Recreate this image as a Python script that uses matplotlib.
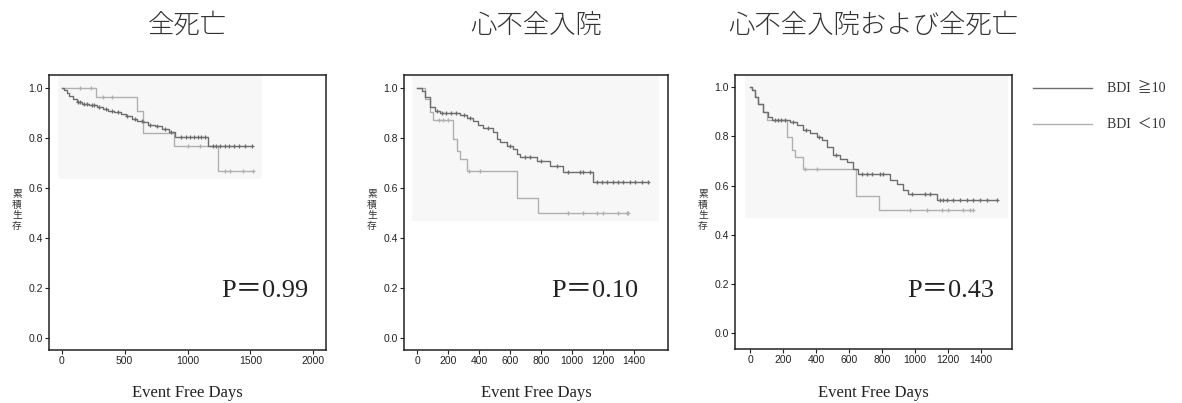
import numpy as np
import matplotlib
matplotlib.use("Agg")
import matplotlib.pyplot as plt
from matplotlib.patches import Rectangle

# ---- data ----
titles = ["全死亡", "心不全入院", "心不全入院および全死亡"]
p_values = ["P＝0.99", "P＝0.10", "P＝0.43"]
legend_labels = ["BDI  ≧10", "BDI  ＜10"]
x_ticks = [[0, 500, 1000, 1500, 2000],
           [0, 200, 400, 600, 800, 1000, 1200, 1400],
           [0, 200, 400, 600, 800, 1000, 1200, 1400]]
y_ticks = [0.0, 0.2, 0.4, 0.6, 0.8, 1.0]

# panel 1: all-cause death
p1_dark_t = [0, 20, 40, 60, 90, 120, 160, 220, 280, 330, 370, 420, 470, 510,
             560, 600, 650, 690, 740, 800, 850, 900, 1160]
p1_dark_s = [1.0, 0.99, 0.98, 0.968, 0.955, 0.944, 0.935, 0.929, 0.921, 0.914,
             0.908, 0.902, 0.895, 0.886, 0.876, 0.868, 0.862, 0.852, 0.845,
             0.836, 0.824, 0.803, 0.768]
p1_dark_c = [130, 150, 180, 200, 240, 260, 300, 350, 400, 450, 520, 580, 640,
             700, 760, 820, 870, 950, 990, 1020, 1050, 1080, 1110, 1140, 1200,
             1230, 1260, 1300, 1330, 1370, 1410, 1460, 1510]
p1_light_t = [0, 270, 597, 643, 896, 1243]
p1_light_s = [1.0, 0.961, 0.908, 0.817, 0.767, 0.668]
p1_light_c = [150, 230, 330, 400, 1000, 1100, 1296, 1336, 1443, 1523]

# panel 2: heart failure hospitalisation
p2_dark_t = [0, 30, 52, 84, 116, 148, 277, 320, 363, 395, 428, 492, 514, 535,
             578, 621, 643, 665, 772, 858, 944, 1138]
p2_dark_s = [1.0, 0.985, 0.963, 0.922, 0.905, 0.9, 0.892, 0.878, 0.865, 0.849,
             0.838, 0.822, 0.795, 0.782, 0.768, 0.755, 0.735, 0.721, 0.708,
             0.688, 0.661, 0.621]
p2_dark_c = [130, 160, 190, 220, 250, 300, 340, 460, 600, 697, 729, 800, 900,
             976, 1051, 1073, 1116, 1159, 1191, 1224, 1267, 1299, 1331, 1374,
             1406, 1449, 1492]
p2_light_t = [0, 52, 84, 105, 234, 256, 277, 320, 647, 783]
p2_light_s = [1.0, 0.956, 0.902, 0.869, 0.795, 0.748, 0.715, 0.668, 0.558,
              0.497]
p2_light_c = [140, 170, 200, 333, 406, 976, 1073, 1159, 1202, 1299, 1353,
              1363]

# panel 3: heart failure hospitalisation or all-cause death
p3_dark_t = [0, 10, 30, 51, 81, 111, 131, 242, 283, 323, 364, 404, 434, 465,
             505, 545, 586, 626, 657, 848, 889, 929, 960, 1131]
p3_dark_s = [1.0, 0.987, 0.96, 0.933, 0.899, 0.878, 0.865, 0.858, 0.845,
             0.827, 0.814, 0.797, 0.784, 0.757, 0.723, 0.709, 0.696, 0.669,
             0.649, 0.621, 0.608, 0.581, 0.567, 0.543]
p3_dark_c = [150, 170, 190, 210, 260, 340, 420, 520, 677, 707, 737, 788, 808,
             980, 1061, 1091, 1151, 1171, 1192, 1232, 1273, 1313, 1353, 1394,
             1434, 1495]
p3_light_t = [0, 10, 30, 51, 81, 101, 222, 252, 273, 323, 642, 784]
p3_light_s = [1.0, 0.987, 0.96, 0.933, 0.899, 0.865, 0.797, 0.743, 0.716,
              0.669, 0.556, 0.5]
p3_light_c = [333, 404, 970, 1071, 1162, 1202, 1293, 1333, 1354]

panels = [
    (p1_dark_t, p1_dark_s, p1_dark_c, p1_light_t, p1_light_s, p1_light_c),
    (p2_dark_t, p2_dark_s, p2_dark_c, p2_light_t, p2_light_s, p2_light_c),
    (p3_dark_t, p3_dark_s, p3_dark_c, p3_light_t, p3_light_s, p3_light_c),
]

# ---- layout (pixels of a 1182x403 canvas) ----
W, H = 1182, 403
axes_px = [(49, 326, 75, 350), (404, 668, 75, 350), (735, 1012, 75, 349)]
x_lims = [(-100, 2100), (-84, 1619), (-91, 1588)]
y_lims = [(-0.05, 1.05), (-0.05, 1.05), (-0.065, 1.05)]
p_right = [308, 638, 994]   # right edge of the P-value text, px

DARK = "#6e6e6e"
LIGHT = "#b0b0b0"
SERIF = ["Liberation Serif", "Noto Sans CJK JP"]
CJK = ["Noto Sans CJK JP", "DejaVu Sans"]


def km_line(ax, t, s, cens, color):
    end = max(max(cens), t[-1])
    ax.step(list(t) + [end], list(s) + [s[-1]], where="post",
            color=color, lw=1.0)
    idx = np.searchsorted(t, cens, side="right") - 1
    ax.plot(cens, np.array(s)[idx], ls="none", marker="+", ms=3.5,
            mew=0.9, color=color)


fig = plt.figure(figsize=(W / 100, H / 100), dpi=100)

for i, (dt, ds, dc, lt, ls_, lc) in enumerate(panels):
    l, r, t, b = axes_px[i]
    ax = fig.add_axes([l / W, 1 - b / H, (r - l) / W, (b - t) / H])

    # faint grey backdrop of the pasted survival plot
    lo = min(min(ds), min(ls_)) - 0.032
    hi_t = max(max(dc), max(lc)) + 70
    ax.add_patch(Rectangle((-30, lo), hi_t + 30, 1.2 - lo,
                           color="#f7f7f7", zorder=0, lw=0))

    km_line(ax, lt, ls_, lc, LIGHT)
    km_line(ax, dt, ds, dc, DARK)

    ax.set_xlim(*x_lims[i])
    ax.set_ylim(*y_lims[i])
    ax.set_xticks(x_ticks[i])
    ax.set_yticks(y_ticks)
    ax.set_yticklabels([f"{v:.1f}" for v in y_ticks])
    ax.tick_params(labelsize=7.5, length=3, width=0.8, colors="#222222",
                   pad=1.5)
    for lab in ax.get_xticklabels() + ax.get_yticklabels():
        lab.set_fontfamily("Liberation Sans")
    for sp in ax.spines.values():
        sp.set_linewidth(1.1)
        sp.set_color("#222222")

    fig.text(p_right[i] / W, 1 - 291 / H, p_values[i], ha="right",
             va="center", fontsize=19, family=SERIF, color="#222222")

    cx = (l + r) / 2
    fig.text(cx / W, 1 - 25 / H, titles[i], ha="center", va="center",
             fontsize=19, family=CJK, fontweight="light", color="#333333")
    fig.text(cx / W, 1 - 393 / H, "Event Free Days", ha="center",
             va="center", fontsize=12, family=SERIF, color="#222222")
    fig.text((l - 32) / W, 1 - 210 / H, "\n".join("累積生存"), ha="center",
             va="center", fontsize=7, family=CJK, linespacing=1.05,
             color="#333333")

# legend drawn by hand at the right edge
for j, (lab, col) in enumerate(zip(legend_labels, [DARK, LIGHT])):
    y = 1 - (88 + 36 * j) / H
    fig.add_artist(plt.Line2D([1033 / W, 1092 / W], [y, y], color=col,
                              lw=1.0, transform=fig.transFigure))
    fig.text(1107 / W, y, lab, ha="left", va="center", fontsize=10,
             family=SERIF, color="#333333")

fig.savefig("out.png", dpi=100)
